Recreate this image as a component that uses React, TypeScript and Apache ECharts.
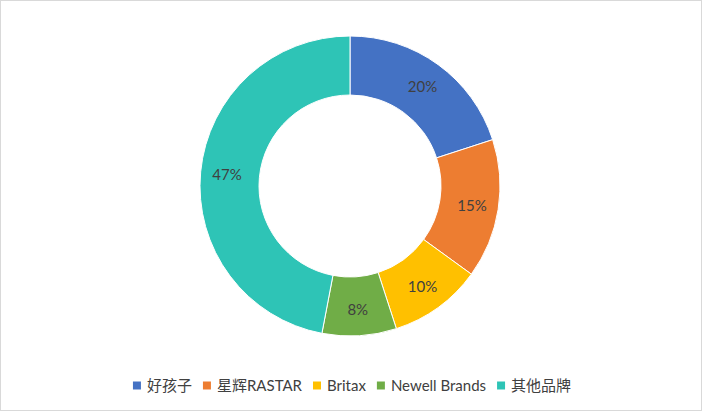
import React, { useEffect, useRef } from "react";
import * as echarts from "echarts";

const categories = ["好孩子", "星辉RASTAR", "Britax", "Newell Brands", "其他品牌"];
const values = [20, 15, 10, 8, 47];
const colors = ["#4472C4", "#ED7D31", "#FFC000", "#70AD47", "#2EC4B6"];

export default function App() {
  const ref = useRef<HTMLDivElement>(null);
  useEffect(() => {
    if (!ref.current) return;
    const chart = echarts.init(ref.current, undefined, { renderer: "svg" });
    chart.setOption({
      animation: false,
      backgroundColor: "#ffffff",
      color: colors,
      textStyle: { fontFamily: "Lato, 'Noto Sans CJK SC', sans-serif" },
      legend: {
        bottom: 12,
        left: "center",
        itemWidth: 10,
        itemHeight: 10,
        itemGap: 9,
        icon: "rect",
        textStyle: { fontSize: 15, color: "#404040", fontFamily: "Lato, 'Noto Sans CJK SC', sans-serif" },
        data: categories,
      },
      series: [
        {
          type: "pie",
          center: [349, 185],
          radius: [91, 150],
          startAngle: 90,
          clockwise: true,
          label: {
            show: true,
            position: "inside",
            formatter: "{c}%",
            fontSize: 15,
            color: "#404040",
            fontFamily: "Lato, sans-serif",
          },
          labelLine: { show: false },
          itemStyle: { borderColor: "#ffffff", borderWidth: 1 },
          data: categories.map((name, i) => ({ name, value: values[i] })),
        },
      ],
    });
    return () => chart.dispose();
  }, []);
  return (
    <div
      style={{
        position: "fixed",
        left: 0,
        top: 0,
        width: 702,
        height: 411,
        boxSizing: "border-box",
        border: "1px solid #d9d9d9",
        background: "#fff",
      }}
    >
      <div ref={ref} style={{ width: 700, height: 409 }} />
    </div>
  );
}
